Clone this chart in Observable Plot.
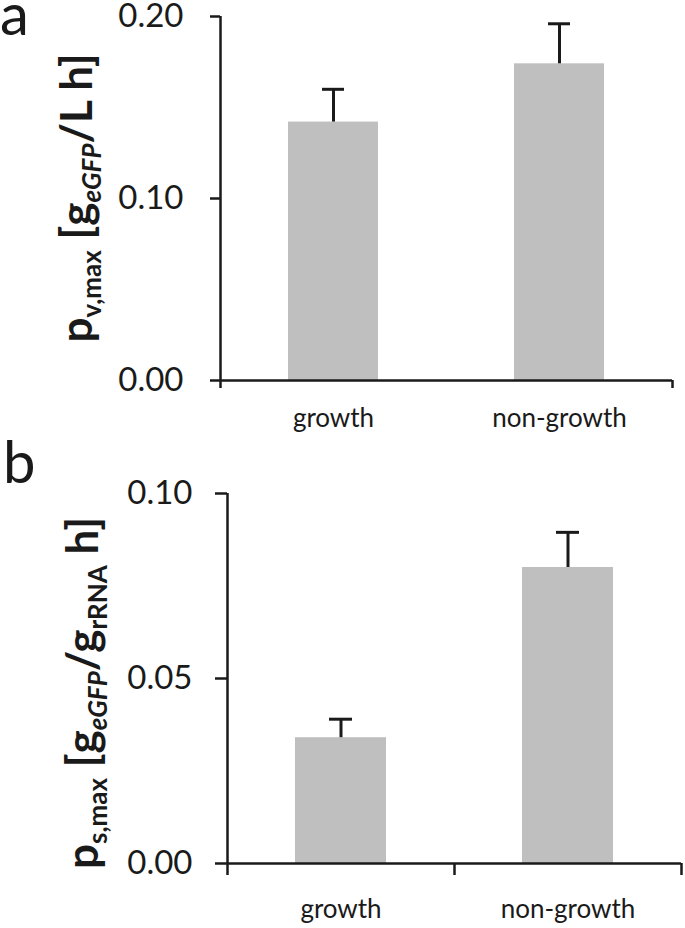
<!DOCTYPE html>
<html>
<head>
<meta charset="utf-8">
<script src="https://cdn.jsdelivr.net/npm/d3@7"></script>
<script src="https://cdn.jsdelivr.net/npm/@observablehq/plot@0.6"></script>
<style>
  html, body { margin: 0; padding: 0; background: #fff; }
  #chart { width: 685px; }
  #chart svg { display: block; overflow: visible; }
</style>
</head>
<body>
<div id="chart"></div>
<script>
// ---- data ----
const categories = ["growth", "non-growth"];
const pvMax = [0.142, 0.174];      // panel a, g_eGFP/(L h)
const pvErr = [0.018, 0.022];
const psMax = [0.034, 0.080];      // panel b, g_eGFP/(g_rRNA h)
const psErr = [0.005, 0.0095];
const ticksA = [0, 0.10, 0.20];
const ticksB = [0, 0.05, 0.10];
const domainA = [0, 0.20];
const domainB = [0, 0.10];

const FONT = "Lato, 'Open Sans', sans-serif";
const INK = "#1a1a1a";
const BAR = "#bfbfbf";

function panel({values, errors, ticks, domain, width, height, mt, mb, ml, mr,
                tickSize, tickPadding, xPad, boundaryLen, leftBounds, rightBounds}) {
  const rows = categories.map((c, i) => ({cat: c, v: values[i], hi: values[i] + errors[i]}));
  const step = (width - ml - mr) / categories.length;
  return Plot.plot({
    width, height,
    marginTop: mt, marginBottom: mb, marginLeft: ml, marginRight: mr,
    style: {fontFamily: FONT, color: INK, background: "transparent", overflow: "visible"},
    x: {domain: categories, paddingInner: 0.6, paddingOuter: 0.3},
    y: {domain},
    marks: [
      Plot.barY(rows, {x: "cat", y: "v", fill: BAR}),
      Plot.ruleX(rows, {x: "cat", y1: "v", y2: "hi", stroke: INK, strokeWidth: 3}),
      Plot.tickY(rows, {x: "cat", y: "hi", stroke: INK, strokeWidth: 3, insetLeft: 34, insetRight: 34}),
      // x axis line
      Plot.ruleY([0], {stroke: INK, strokeWidth: 2.5}),
      // y axis line + left category boundary tick
      Plot.ruleX(leftBounds, {x: d => d, dx: -step / 2, stroke: INK, strokeWidth: 2.5, insetBottom: -boundaryLen}),
      // right category boundary ticks
      Plot.ruleX(rightBounds, {x: d => d, dx: step / 2, y1: 0, y2: 0, stroke: INK, strokeWidth: 2.5, insetBottom: -boundaryLen}),
      Plot.axisY({ticks, tickFormat: d3.format(".2f"), tickSize, tickPadding, fontSize: 33,
                  label: null, stroke: INK, strokeWidth: 2.5, fill: INK}),
      Plot.axisX({tickSize: 0, tickPadding: xPad, fontSize: 26, label: null, fill: INK})
    ]
  });
}

function yLabel(svgNode, parts, x, y, size) {
  const t = d3.select(svgNode).append("text")
    .attr("transform", `translate(${x},${y}) rotate(-90)`)
    .attr("text-anchor", "middle")
    .attr("font-family", FONT)
    .attr("font-weight", "bold")
    .attr("font-size", size)
    .attr("fill", INK);
  const subSize = Math.round(size * 0.6);
  const shift = Math.round(size * 0.2);
  let down = false;
  for (const p of parts) {
    const s = t.append("tspan").text(p.t);
    if (p.sub) {
      s.attr("font-size", subSize);
      if (!down) { s.attr("dy", shift); down = true; }
      if (p.it) s.attr("font-style", "italic");
    } else if (down) {
      s.attr("dy", -shift); down = false;
    }
  }
}

function letter(svgNode, txt, x, y) {
  d3.select(svgNode).append("text").attr("x", x).attr("y", y)
    .attr("text-anchor", "start")
    .attr("font-family", FONT).attr("font-size", 58).attr("fill", INK).text(txt);
}

const a = panel({values: pvMax, errors: pvErr, ticks: ticksA, domain: domainA,
  width: 685, height: 464, mt: 16, mb: 84, ml: 220, mr: 13,
  tickSize: 10, tickPadding: 27, xPad: 28, boundaryLen: 8,
  leftBounds: ["growth"], rightBounds: ["non-growth"]});
yLabel(a, [{t: "p"}, {t: "v,max", sub: true}, {t: " [g"}, {t: "eGFP", sub: true, it: true}, {t: "/L h]"}], 92, 198, 44);
letter(a, "a", 0, 35);

const b = panel({values: psMax, errors: psErr, ticks: ticksB, domain: domainB,
  width: 685, height: 464, mt: 29, mb: 65, ml: 227, mr: 4,
  tickSize: 12, tickPadding: 23, xPad: 36, boundaryLen: 12,
  leftBounds: ["growth"], rightBounds: ["growth", "non-growth"]});
yLabel(b, [{t: "p"}, {t: "s,max", sub: true}, {t: " [g"}, {t: "eGFP", sub: true, it: true}, {t: "/g"}, {t: "rRNA", sub: true}, {t: " h]"}], 98, 229, 44);
letter(b, "b", 3, 19);

document.getElementById("chart").append(a, b);
</script>
</body>
</html>
